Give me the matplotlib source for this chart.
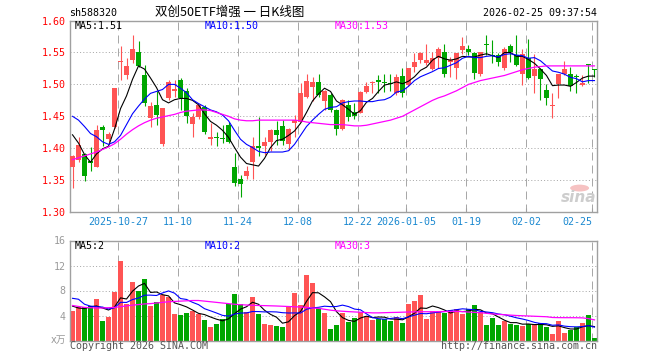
import numpy as np
import matplotlib
matplotlib.use('Agg')
import matplotlib.pyplot as plt
from matplotlib.patches import Circle

W, H = 660, 360
RED = '#ff5454'
GREEN = '#00a600'
GRID = '#a8a8a8'
FRAME = '#a0a0a0'
DATE_BLUE = '#1a88d0'
MONO = 'DejaVu Sans Mono'

plt.rcParams['font.family'] = MONO

# --- data ---
dates = ['2025-10-27', '11-10', '11-24', '12-08', '12-22',
         '2026-01-05', '01-19', '02-02', '02-25']
date_idx = [8, 18, 28, 38, 48, 56, 66, 76, 87]

opens = [1.371, 1.382, 1.391, 1.380, 1.371, 1.433, 1.415, 1.434, 1.535, 1.514,
         1.539, 1.550, 1.514, 1.448, 1.468, 1.406, 1.478, 1.490, 1.507, 1.489,
         1.4375, 1.4485, 1.464, 1.415, 1.418, 1.416, 1.436, 1.370, 1.352, 1.356,
         1.378, 1.403, 1.404, 1.409, 1.429, 1.435, 1.406, 1.439, 1.4415, 1.481,
         1.4964, 1.504, 1.474, 1.483, 1.4605, 1.430, 1.468, 1.457, 1.4557, 1.4885,
         1.5015, 1.5068, 1.504, 1.5016, 1.486, 1.513, 1.499, 1.5266, 1.538, 1.533,
         1.524, 1.5406, 1.550, 1.5354, 1.525, 1.5536, 1.555, 1.5495, 1.517, 1.564,
         1.546, 1.546, 1.525, 1.560, 1.546, 1.517, 1.542, 1.5135, 1.524, 1.492,
         1.466, 1.500, 1.516, 1.517, 1.513, 1.499, 1.532, 1.5234]
highs = [1.389, 1.417, 1.392, 1.402, 1.436, 1.436, 1.426, 1.495, 1.560, 1.541,
         1.577, 1.568, 1.530, 1.473, 1.489, 1.463, 1.507, 1.507, 1.510, 1.494,
         1.455, 1.470, 1.468, 1.439, 1.426, 1.436, 1.441, 1.392, 1.358, 1.372,
         1.418, 1.4495, 1.418, 1.430, 1.443, 1.444, 1.431, 1.452, 1.5025, 1.517,
         1.512, 1.517, 1.491, 1.486, 1.461, 1.477, 1.4755, 1.471, 1.4895, 1.504,
         1.505, 1.5146, 1.517, 1.516, 1.517, 1.525, 1.526, 1.5495, 1.551, 1.563,
         1.551, 1.559, 1.564, 1.543, 1.5495, 1.5745, 1.561, 1.551, 1.551, 1.578,
         1.569, 1.549, 1.559, 1.563, 1.577, 1.556, 1.571, 1.5484, 1.525, 1.501,
         1.486, 1.5156, 1.537, 1.527, 1.516, 1.514, 1.5325, 1.524]
lows = [1.337, 1.379, 1.348, 1.364, 1.370, 1.403, 1.410, 1.432, 1.507, 1.508,
        1.533, 1.527, 1.466, 1.434, 1.437, 1.404, 1.475, 1.480, 1.460, 1.439,
        1.417, 1.445, 1.4225, 1.405, 1.403, 1.408, 1.408, 1.341, 1.324, 1.351,
        1.351, 1.387, 1.390, 1.396, 1.405, 1.405, 1.397, 1.418, 1.441, 1.479,
        1.4736, 1.480, 1.4605, 1.457, 1.421, 1.429, 1.443, 1.445, 1.455, 1.486,
        1.487, 1.486, 1.488, 1.490, 1.483, 1.4807, 1.498, 1.520, 1.533, 1.530,
        1.522, 1.525, 1.512, 1.512, 1.509, 1.548, 1.546, 1.509, 1.513, 1.546,
        1.533, 1.529, 1.522, 1.5354, 1.529, 1.499, 1.508, 1.487, 1.4755, 1.468,
        1.448, 1.478, 1.514, 1.489, 1.487, 1.497, 1.5016, 1.512]
closes = [1.388, 1.405, 1.357, 1.377, 1.429, 1.428, 1.422, 1.495, 1.537, 1.529,
          1.556, 1.529, 1.471, 1.466, 1.452, 1.4625, 1.504, 1.493, 1.478, 1.4505,
          1.4495, 1.468, 1.426, 1.418, 1.416, 1.414, 1.410, 1.346, 1.344, 1.365,
          1.403, 1.400, 1.409, 1.429, 1.421, 1.4115, 1.430, 1.444, 1.487, 1.506,
          1.504, 1.483, 1.4896, 1.4605, 1.4307, 1.4755, 1.4485, 1.4505, 1.4885, 1.497,
          1.504, 1.504, 1.5016, 1.500, 1.512, 1.487, 1.526, 1.5354, 1.5495, 1.538,
          1.542, 1.5562, 1.5156, 1.538, 1.5495, 1.560, 1.550, 1.518, 1.550, 1.5615,
          1.545, 1.535, 1.556, 1.551, 1.531, 1.547, 1.510, 1.524, 1.508, 1.479,
          1.468, 1.5156, 1.5234, 1.4974, 1.512, 1.5016, 1.530, 1.522]

ma5 = [1.421, 1.408, 1.390, 1.378, 1.391, 1.399, 1.403, 1.430, 1.462, 1.482,
       1.508, 1.529, 1.524, 1.510, 1.495, 1.476, 1.471, 1.476, 1.478, 1.478,
       1.475, 1.468, 1.454, 1.442, 1.436, 1.428, 1.417, 1.401, 1.386, 1.376,
       1.374, 1.372, 1.384, 1.401, 1.412, 1.414, 1.420, 1.427, 1.439, 1.456,
       1.474, 1.485, 1.494, 1.489, 1.474, 1.468, 1.461, 1.453, 1.459, 1.472,
       1.478, 1.489, 1.499, 1.501, 1.504, 1.501, 1.505, 1.512, 1.522, 1.527,
       1.538, 1.544, 1.540, 1.538, 1.540, 1.544, 1.543, 1.543, 1.546, 1.548,
       1.545, 1.542, 1.550, 1.550, 1.544, 1.544, 1.539, 1.533, 1.524, 1.514,
       1.498, 1.499, 1.499, 1.497, 1.503, 1.510, 1.513, 1.513]
ma10 = [1.450, 1.444, 1.434, 1.423, 1.418, 1.410, 1.406, 1.410, 1.420, 1.437,
        1.454, 1.466, 1.477, 1.486, 1.489, 1.492, 1.500, 1.500, 1.494, 1.487,
        1.476, 1.470, 1.465, 1.460, 1.457, 1.452, 1.443, 1.428, 1.414, 1.406,
        1.401, 1.395, 1.393, 1.394, 1.394, 1.394, 1.396, 1.406, 1.420, 1.434,
        1.444, 1.453, 1.461, 1.464, 1.465, 1.471, 1.473, 1.474, 1.474, 1.473,
        1.473, 1.475, 1.476, 1.480, 1.488, 1.490, 1.497, 1.506, 1.512, 1.516,
        1.520, 1.525, 1.526, 1.530, 1.534, 1.541, 1.544, 1.542, 1.542, 1.544,
        1.545, 1.543, 1.547, 1.548, 1.546, 1.545, 1.541, 1.542, 1.537, 1.529,
        1.521, 1.519, 1.516, 1.511, 1.509, 1.504, 1.506, 1.506]
ma30 = [1.382, 1.385, 1.388, 1.391, 1.394, 1.398, 1.402, 1.407, 1.414, 1.422,
        1.429, 1.435, 1.440, 1.444, 1.447, 1.449, 1.451, 1.453, 1.456, 1.458,
        1.459, 1.460, 1.460, 1.459, 1.456, 1.453, 1.450, 1.446, 1.444, 1.443,
        1.443, 1.444, 1.444, 1.444, 1.444, 1.444, 1.444, 1.444, 1.443, 1.441,
        1.440, 1.439, 1.438, 1.437, 1.437, 1.437, 1.436, 1.435, 1.435, 1.436,
        1.438, 1.440, 1.442, 1.444, 1.447, 1.450, 1.455, 1.460, 1.465, 1.470,
        1.475, 1.479, 1.482, 1.486, 1.490, 1.495, 1.500, 1.503, 1.506, 1.508,
        1.510, 1.512, 1.514, 1.517, 1.520, 1.523, 1.525, 1.527, 1.528, 1.529,
        1.529, 1.529, 1.529, 1.529, 1.529, 1.529, 1.529, 1.529]

# volume, in 万
vols = [4.72, 5.36, 5.36, 5.50, 6.70, 3.10, 3.76, 7.76, 12.77, 5.80,
        9.36, 7.92, 9.84, 5.52, 6.16, 7.23, 6.96, 4.24, 4.08, 4.40,
        4.72, 4.26, 3.28, 2.16, 2.64, 3.39, 5.84, 7.44, 5.79, 4.56,
        6.96, 4.24, 2.64, 2.48, 2.32, 2.16, 5.36, 7.60, 5.68, 10.48,
        9.20, 5.20, 4.40, 1.84, 2.48, 4.40, 2.96, 3.60, 4.56, 3.92,
        3.28, 3.44, 3.44, 3.12, 3.76, 2.80, 5.84, 6.32, 7.28, 3.44,
        4.72, 4.56, 4.40, 4.88, 5.04, 4.24, 5.04, 5.68, 4.56, 2.48,
        3.60, 2.48, 3.12, 2.64, 2.48, 2.32, 2.64, 2.64, 2.80, 2.16,
        1.04, 3.12, 1.20, 1.68, 2.16, 2.80, 4.08, 0.40]
vma5 = [5.50, 5.20, 5.10, 5.40, 5.53, 5.20, 4.88, 5.36, 6.82, 6.64,
        7.89, 8.72, 9.14, 7.69, 7.76, 7.33, 7.14, 6.02, 5.73, 5.38,
        4.88, 4.34, 4.15, 3.76, 3.41, 3.15, 3.46, 4.29, 5.02, 5.40,
        6.12, 5.80, 4.84, 4.18, 3.73, 2.77, 2.99, 3.98, 4.62, 6.26,
        7.66, 7.63, 6.99, 6.22, 4.62, 3.66, 3.22, 3.06, 3.60, 3.89,
        3.66, 3.76, 3.73, 3.44, 3.41, 3.31, 3.79, 4.37, 5.20, 5.14,
        5.52, 5.26, 4.88, 4.40, 4.72, 4.62, 4.72, 4.98, 4.91, 4.40,
        4.27, 3.76, 3.25, 2.86, 2.86, 2.61, 2.64, 2.54, 2.58, 2.51,
        2.26, 2.35, 2.06, 1.84, 1.84, 2.19, 2.38, 2.22]
vma10 = [6.75, 6.60, 5.80, 5.50, 5.40, 5.35, 5.04, 5.23, 6.11, 6.09,
         6.55, 6.80, 7.25, 7.26, 7.20, 7.61, 7.93, 7.58, 6.71, 6.57,
         6.11, 5.74, 5.09, 4.75, 4.40, 4.02, 3.90, 4.22, 4.39, 4.41,
         4.64, 4.63, 4.57, 4.60, 4.57, 4.45, 4.40, 4.41, 4.40, 5.00,
         5.22, 5.31, 5.49, 5.42, 5.44, 5.66, 5.43, 5.03, 4.91, 4.26,
         3.66, 3.49, 3.40, 3.52, 3.65, 3.49, 3.78, 4.05, 4.32, 4.28,
         4.42, 4.53, 4.63, 4.80, 4.93, 5.07, 4.99, 4.93, 4.66, 4.56,
         4.45, 4.24, 4.12, 3.89, 3.63, 3.44, 3.20, 2.90, 2.72, 2.69,
         2.44, 2.50, 2.30, 2.21, 2.18, 2.23, 2.37, 2.14]
vma30 = [5.60, 5.45, 5.30, 5.25, 5.20, 5.20, 5.25, 5.30, 5.40, 5.55,
         5.65, 5.75, 5.85, 5.90, 6.00, 6.10, 6.20, 6.25, 6.30, 6.35,
         6.40, 6.40, 6.30, 6.20, 6.10, 6.00, 5.90, 5.80, 5.73, 5.68,
         5.63, 5.60, 5.58, 5.55, 5.52, 5.48, 5.44, 5.40, 5.36, 5.30,
         5.20, 5.15, 5.00, 4.85, 4.75, 4.68, 4.62, 4.57, 4.52, 4.47,
         4.42, 4.42, 4.45, 4.48, 4.50, 4.53, 4.56, 4.58, 4.60, 4.60,
         4.60, 4.62, 4.64, 4.65, 4.65, 4.62, 4.55, 4.50, 4.45, 4.35,
         4.25, 4.18, 4.12, 4.06, 4.00, 3.96, 3.92, 3.88, 3.84, 3.80,
         3.68, 3.66, 3.65, 3.65, 3.64, 3.62, 3.50, 3.30]

price_ticks = [1.30, 1.35, 1.40, 1.45, 1.50, 1.55, 1.60]
vol_ticks = [4, 8, 12, 16]


def fx(px):
    return px / W


def fy(py):
    return 1 - py / H


fig = plt.figure(figsize=(W / 100, H / 100), dpi=100)
ax = fig.add_axes([fx(70), fy(212), (597 - 70) / W, (212 - 20.6) / H])
axv = fig.add_axes([fx(70), fy(340.5), (597 - 70) / W, 100 / H])

x = np.arange(len(closes))
o = np.array(opens)
c = np.array(closes)
col = np.where(c >= o, RED, GREEN)
grid_x = np.array(date_idx) - 0.4

for a in (ax, axv):
    a.set_xlim(-0.42, len(closes) - 0.58)
    for s in a.spines.values():
        s.set_color(FRAME)
        s.set_linewidth(1.0)
    a.vlines(grid_x, 0, 1, transform=a.get_xaxis_transform(), colors=GRID,
             linewidth=0.72, linestyles=(0, (8, 5)), zorder=1)

# ── price panel ──
ax.set_ylim(1.30, 1.60)
for t in price_ticks[1:-1]:
    ax.axhline(t, color=GRID, linewidth=0.72, linestyle=(0, (1, 2.2)), zorder=1)
ax.vlines(x, lows, highs, colors=col, linewidth=0.8, zorder=2)
ax.bar(x, np.maximum(np.abs(c - o), 0.0016), width=0.8,
       bottom=np.minimum(o, c), color=col, linewidth=0, zorder=3)
ax.plot(x, ma5, color='black', linewidth=0.8, zorder=4)
ax.plot(x, ma10, color='#0000ff', linewidth=0.8, zorder=4)
ax.plot(x, ma30, color='#ff00ff', linewidth=0.9, zorder=4)

ax.set_yticks(price_ticks)
ax.set_yticklabels([f'{t:.2f}' for t in price_ticks])
ax.tick_params(axis='y', length=0, pad=3, labelsize=7.2, labelcolor='#ff0000')
ax.set_xticks(grid_x)
ax.set_xticklabels(dates)
ax.tick_params(axis='x', direction='in', length=3, color=FRAME, width=0.8,
               labelsize=7.2, labelcolor=DATE_BLUE, pad=3.5)
ax.get_xticklabels()[-1].set_horizontalalignment('right')

# sina watermark
ax.add_patch(Circle((0.967, 0.125), 0.018, transform=ax.transAxes,
                    facecolor='#f6c2c2', edgecolor='none', zorder=1))
ax.text(0.966, 0.035, 'sina', transform=ax.transAxes, ha='center', va='bottom',
        fontsize=11, fontstyle='italic', fontweight='bold', color='#cdcdcd',
        family='DejaVu Sans', zorder=1)

# ── volume panel ──
axv.set_ylim(0, 16)
for t in vol_ticks[:-1]:
    axv.axhline(t, color=GRID, linewidth=0.72, linestyle=(0, (1, 2.2)), zorder=1)
axv.bar(x, vols, width=0.8, color=col, linewidth=0, zorder=2)
axv.plot(x, vma5, color='black', linewidth=0.8, zorder=4)
axv.plot(x, vma10, color='#0000ff', linewidth=0.8, zorder=4)
axv.plot(x, vma30, color='#ff00ff', linewidth=0.9, zorder=4)
axv.set_yticks(vol_ticks)
axv.set_yticklabels([str(t) for t in vol_ticks])
axv.tick_params(axis='y', length=0, pad=3, labelsize=7.2, labelcolor='#9a9a9a')
axv.set_xticks([])

# ── texts ──
fig.text(fx(69.5), fy(13), 'sh588320', ha='left', va='center', fontsize=7.2)
fig.text(fx(230), fy(12.5), '双创50ETF增强 一 日K线图', ha='center', va='center',
         fontsize=9, family=['Noto Sans CJK SC', 'DejaVu Sans'])
fig.text(fx(597), fy(13), '2026-02-25 09:37:54', ha='right', va='center',
         fontsize=7.2)

fig.text(fx(75), fy(26.3), 'MA5:1.51', ha='left', va='center', fontsize=7.2,
         color='black')
fig.text(fx(205), fy(26.3), 'MA10:1.50', ha='left', va='center', fontsize=7.2,
         color='#0000ff')
fig.text(fx(335), fy(26.3), 'MA30:1.53', ha='left', va='center', fontsize=7.2,
         color='#ff00ff')

fig.text(fx(75), fy(246.3), 'MA5:2', ha='left', va='center', fontsize=7.2,
         color='black')
fig.text(fx(204.5), fy(246.3), 'MA10:2', ha='left', va='center', fontsize=7.2,
         color='#0000ff')
fig.text(fx(335), fy(246.3), 'MA30:3', ha='left', va='center', fontsize=7.2,
         color='#ff00ff')

fig.text(fx(66), fy(339.5), 'x万', ha='right', va='center', fontsize=7,
         color='#9a9a9a', family=['DejaVu Sans', 'Noto Sans CJK SC'])
fig.text(fx(70), fy(346), 'Copyright 2026 SINA.COM', ha='left', va='center',
         fontsize=7.2, color='#555555')
fig.text(fx(597), fy(346), 'http://finance.sina.com.cn', ha='right',
         va='center', fontsize=7.2, color='#555555')

fig.savefig('out.png', dpi=100, facecolor='white')
